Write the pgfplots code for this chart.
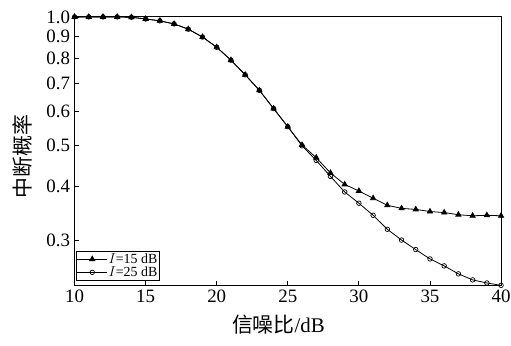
\documentclass[border=0pt]{standalone}
\usepackage{fontspec}
\setmainfont{Liberation Serif}
\newfontfamily\cjk{Noto Sans CJK SC}
\usepackage{pgfplots}
\pgfplotsset{compat=1.18}
\begin{document}
\begin{tikzpicture}
\useasboundingbox (-75bp,-61bp) rectangle (439bp,287bp);
\begin{axis}[
  at={(0,0)}, anchor=south west,
  scale only axis, width=429bp, height=270bp,
  xmin=10, xmax=40, ymode=log, ymin=0.235, ymax=1.0,
  xtick={10,15,...,40},
  ytick={0.3,0.4,0.5,0.6,0.7,0.8,0.9,1.0},
  yticklabels={0.3,0.4,0.5,0.6,0.7,0.8,0.9,1.0},
  yminorticks=false, xminorticks=false,
  tick align=inside, tickpos=left,
  major tick length=4bp,
  axis line style={line width=1bp},
  tick style={line width=0.8bp, black},
  tick label style={font=\fontsize{19bp}{21bp}\selectfont},
  yticklabel style={xshift=-1bp},
  xticklabel style={yshift=-1bp},
  /pgf/number format/assume math mode=true,
  xlabel={{\cjk 信噪比}/dB},
  ylabel={\cjk 中断概率},
  xlabel style={at={(axis description cs:0.478,-0.148)}, anchor=center, font=\fontsize{21bp}{23bp}\selectfont},
  ylabel style={at={(axis description cs:-0.122,0.48)}, anchor=center, font=\fontsize{21bp}{23bp}\selectfont},
  legend style={at={(rel axis cs:0,0)}, anchor=south west, xshift=1bp, yshift=5bp,
     font=\fontsize{14bp}{14bp}\selectfont, draw=black, line width=0.8bp, inner sep=1bp, row sep=0bp,
     nodes={inner sep=1bp}},
  legend cell align=left,
  legend image code/.code={\draw[mark repeat=2,mark phase=2] plot coordinates {(0bp,0bp) (15bp,0bp) (30bp,0bp)};},
]
\addplot[black, line width=0.8bp, mark=o, mark size=2.3bp, mark options={line width=0.7bp}, forget plot] coordinates {
(10,1.0)(11,1.0)(12,1.0)(13,1.0)(14,0.998)(15,0.989)(16,0.979)(17,0.963)(18,0.936)(19,0.897)(20,0.849)
(21,0.792)(22,0.732)(23,0.673)(24,0.610)(25,0.553)(26,0.499)(27,0.461)(28,0.423)(29,0.389)(30,0.366)
(31,0.343)(32,0.318)(33,0.300)(34,0.285)(35,0.271)(36,0.261)(37,0.250)(38,0.242)(39,0.238)(40,0.235)
};
\addplot[black, line width=0.8bp, mark=triangle*, mark size=3bp] coordinates {
(10,1.0)(11,1.0)(12,1.0)(13,1.0)(14,0.998)(15,0.989)(16,0.979)(17,0.963)(18,0.936)(19,0.897)(20,0.849)
(21,0.792)(22,0.732)(23,0.673)(24,0.610)(25,0.553)(26,0.501)(27,0.468)(28,0.431)(29,0.405)(30,0.391)
(31,0.376)(32,0.362)(33,0.356)(34,0.354)(35,0.350)(36,0.348)(37,0.344)(38,0.342)(39,0.343)(40,0.342)
};
\addlegendentry{$I$=15 dB}
\addlegendimage{black, line width=0.8bp, mark=o, mark size=2.3bp, mark options={line width=0.7bp}}
\addlegendentry{$I$=25 dB}
\end{axis}
\end{tikzpicture}
\end{document}
